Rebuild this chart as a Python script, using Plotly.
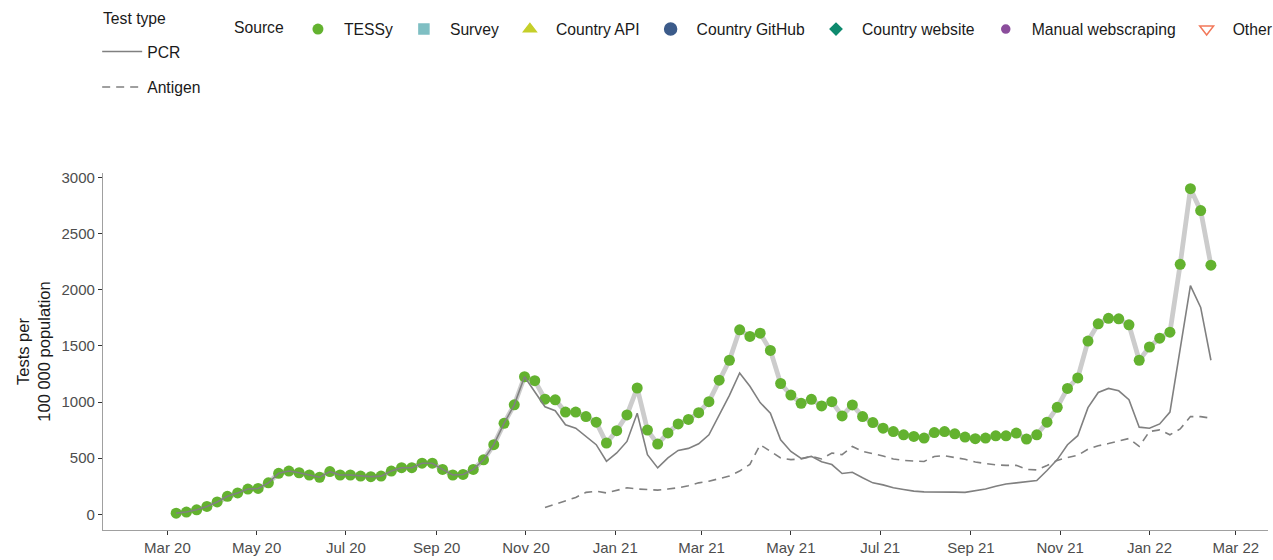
import pandas as pd
import plotly.graph_objects as go

start_week = "2020-03-07"
n_weeks = 102

total_tests = [10, 20, 40, 70, 110, 160, 190, 225, 230, 280,
               365, 385, 370, 350, 330, 380, 350, 350, 340, 335,
               340, 385, 415, 415, 455, 455, 400, 350, 355, 400,
               485, 620, 810, 975, 1225, 1190, 1025, 1020, 910, 910,
               870, 820, 635, 745, 885, 1125, 750, 625, 725, 805,
               845, 905, 1003, 1195, 1372, 1643, 1584, 1613, 1460, 1165,
               1062, 988, 1024, 965, 1003, 876, 974, 870, 817, 767,
               737, 708, 693, 679, 728, 737, 717, 688, 673, 679,
               699, 699, 723, 670, 708, 820, 953, 1121, 1215, 1543,
               1697, 1746, 1741, 1688, 1372, 1490, 1569, 1622, 2227, 2900,
               2705, 2219]

pcr_tests = [10, 20, 40, 70, 110, 160, 190, 225, 230, 280,
             365, 385, 370, 350, 330, 380, 350, 350, 340, 335,
             340, 385, 415, 415, 455, 455, 400, 350, 355, 400,
             485, 620, 810, 975, 1225, 1090, 958, 923, 797, 767,
             693, 620, 472, 546, 649, 900, 531, 413, 502, 569,
             587, 628, 708, 885, 1060, 1259, 1140, 995, 900, 664,
             560, 497, 516, 468, 443, 363, 374, 325, 280, 262,
             236, 220, 206, 200, 197, 197, 197, 195, 208, 225,
             250, 270, 280, 290, 300, 390, 487, 620, 700, 950,
             1085, 1121, 1100, 1020, 776, 767, 805, 910, 1470, 2036,
             1843, 1372]

antigen_tests = [None] * 36 + [
    60, 90, 118, 150, 195, 205, 190, 210, 236, 225,
    220, 215, 225, 236, 255, 280, 295, 315, 340, 385,
    445, 620, 560, 502, 487, 493, 516, 493, 546, 531,
    604, 560, 540, 520, 493, 480, 475, 470, 515, 522,
    505, 490, 465, 450, 440, 436, 436, 400, 395, 435,
    480, 505, 525, 580, 610, 630, 650, 675, 605, 737,
    752, 708, 760, 870, 870, 856]

source_names = ["TESSy", "Survey", "Country API", "Country GitHub",
                "Country website", "Manual webscraping", "Other"]
source_symbols = ["circle", "square", "triangle-up", "circle",
                  "diamond", "circle", "triangle-down-open"]
source_colors = ["#63B22F", "#7FBFC3", "#C5CF2A", "#3C5B8A",
                 "#0E8A6E", "#8B4D9C", "#F2785A"]
source_sizes = [11, 10, 11, 12, 9, 8, 12]

weeks = pd.date_range(start_week, periods=n_weeks, freq="7D")

FONT = "Liberation Sans, Arial, sans-serif"
LFS = 15.7
fig = go.Figure()

fig.add_trace(go.Scatter(x=weeks, y=total_tests, mode="lines",
                         line=dict(color="#CCCCCC", width=4.8),
                         showlegend=False, hoverinfo="skip"))
fig.add_trace(go.Scatter(x=weeks, y=total_tests, mode="markers",
                         name=source_names[0],
                         marker=dict(color=source_colors[0], size=source_sizes[0],
                                     symbol=source_symbols[0]),
                         legend="legend2"))
for nm, sym, col, sz in zip(source_names[1:], source_symbols[1:],
                            source_colors[1:], source_sizes[1:]):
    fig.add_trace(go.Scatter(x=[None], y=[None], mode="markers", name=nm,
                             marker=dict(color=col, size=sz, symbol=sym,
                                         line=dict(color=col, width=1.5)),
                             legend="legend2"))
fig.add_trace(go.Scatter(x=weeks, y=pcr_tests, mode="lines", name="PCR",
                         line=dict(color="#808080", width=1.6),
                         legend="legend", legendgroup="pcr"))
fig.add_trace(go.Scatter(x=weeks, y=antigen_tests, mode="lines", name="Antigen",
                         line=dict(color="#808080", width=1.6, dash="8px,6px"),
                         legend="legend", legendgroup="ag"))

fig.add_annotation(text="Test type", xref="paper", yref="paper",
                   x=(101 - 103) / 1165, y=(530 - 18) / 357,
                   xanchor="left", yanchor="middle", showarrow=False,
                   font=dict(size=LFS, color="#1a1a1a"))

fig.update_layout(
    width=1273, height=560,
    margin=dict(l=103, r=5, t=173, b=30, autoexpand=False),
    paper_bgcolor="white", plot_bgcolor="white",
    font=dict(family=FONT, size=15, color="#1a1a1a"),
    showlegend=True,
    legend=dict(orientation="v", x=-0.005, y=1.387, xanchor="left", yanchor="top",
                font=dict(size=LFS), tracegroupgap=12, traceorder="grouped",
                itemwidth=40, bgcolor="rgba(0,0,0,0)"),
    legend2=dict(title=dict(text="Source", font=dict(size=LFS), side="left"),
                 orientation="h", x=0.1107, y=1.45, xanchor="left", yanchor="top",
                 font=dict(size=LFS), itemwidth=42, bgcolor="rgba(0,0,0,0)"),
    xaxis=dict(type="date", range=["2020-01-17", "2022-03-23"],
               tick0="2020-03-01", dtick="M2", tickformat="%b %y",
               showgrid=False, zeroline=False,
               showline=True, linecolor="#A0A0A0", linewidth=1.2,
               ticks="outside", ticklen=4, tickcolor="#333333",
               tickfont=dict(size=15, color="#4D4D4D")),
    yaxis=dict(range=[-140, 3040], tickvals=[0, 500, 1000, 1500, 2000, 2500, 3000],
               showgrid=False, zeroline=False,
               showline=True, linecolor="#A0A0A0", linewidth=1.2,
               ticks="outside", ticklen=4, tickcolor="#333333",
               tickfont=dict(size=15, color="#4D4D4D"),
               title=dict(text="Tests per<br>100 000 population",
                          font=dict(size=16.5, color="#1a1a1a"), standoff=6)),
)

fig.write_html("out.html")
